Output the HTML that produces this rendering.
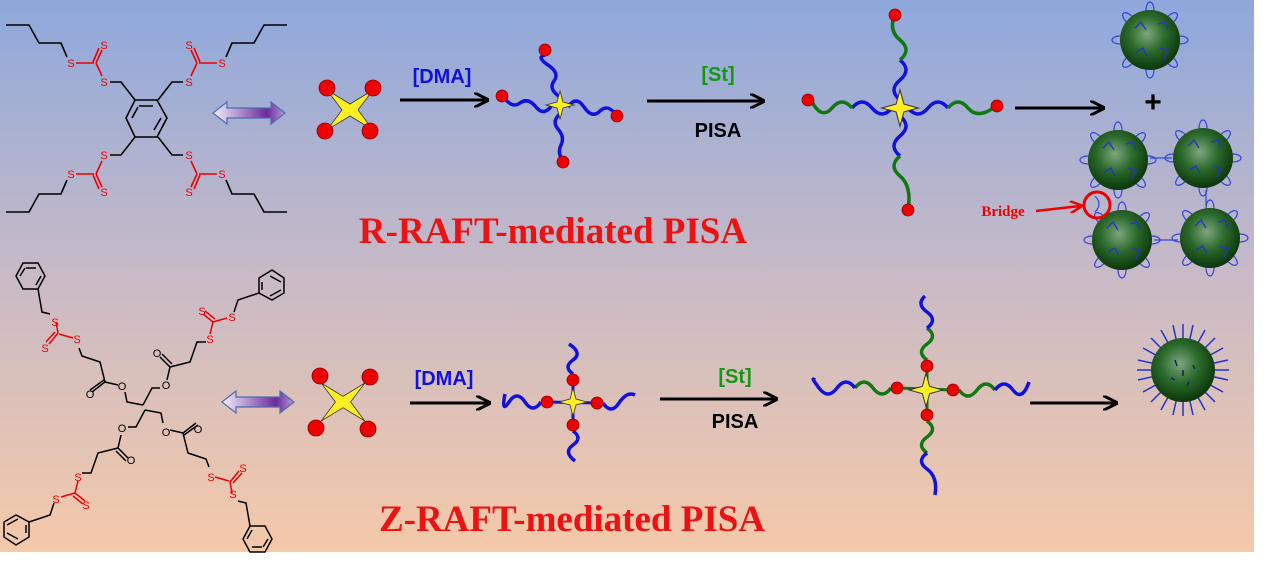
<!DOCTYPE html>
<html><head><meta charset="utf-8"><style>
html,body{margin:0;padding:0;background:#fff;}
svg{display:block}
</style></head><body>
<svg width="1269" height="565" viewBox="0 0 1269 565" xmlns="http://www.w3.org/2000/svg">
<defs>
<linearGradient id="bg" x1="0" y1="0" x2="0" y2="1">
<stop offset="0" stop-color="#8ea8dc"/><stop offset="0.5" stop-color="#c8bac6"/><stop offset="1" stop-color="#f5c9a9"/>
</linearGradient>
<linearGradient id="da" x1="0" y1="0" x2="1" y2="0">
<stop offset="0" stop-color="#f4f0fa"/><stop offset="0.75" stop-color="#6a2a9c"/><stop offset="1" stop-color="#b79bd6"/>
</linearGradient>
<radialGradient id="sg" cx="0.45" cy="0.4" r="0.6">
<stop offset="0" stop-color="#7ea67e"/><stop offset="0.5" stop-color="#2c6a2c"/><stop offset="1" stop-color="#0b360b"/>
</radialGradient>
<g id="sph">
<g fill="none" stroke="#3344dd" stroke-width="1.2">
<ellipse cx="0" cy="-30" rx="4" ry="8"/><ellipse cx="21" cy="-21" rx="4" ry="8" transform="rotate(45 21 -21)"/>
<ellipse cx="30" cy="0" rx="8" ry="4"/><ellipse cx="21" cy="21" rx="4" ry="8" transform="rotate(-45 21 21)"/>
<ellipse cx="0" cy="30" rx="4" ry="8"/><ellipse cx="-21" cy="21" rx="4" ry="8" transform="rotate(45 -21 21)"/>
<ellipse cx="-30" cy="0" rx="8" ry="4"/><ellipse cx="-21" cy="-21" rx="4" ry="8" transform="rotate(-45 -21 -21)"/>
</g>
<circle r="30" fill="url(#sg)"/>
<g fill="none" stroke="#2233cc" stroke-width="1.3">
<path d="M-15,-12 l6,-6 l5,8 M8,-16 l7,-2 l3,8 M-14,12 l7,-4 l4,8 M10,8 l8,3 l-4,8"/>
</g>
</g>
<g id="st"><polygon points="0,-14 3,-3 14,0 3,3 0,14 -3,3 -14,0 -3,-3" fill="#ffee22" stroke="#333" stroke-width="0.8"/></g>
<g id="stx"><polygon points="-23,-20 0,-6 23,-20 8,0 23,20 0,6 -23,20 -8,0" fill="#ffee22" stroke="#333" stroke-width="0.8"/></g>
<polygon id="dbl" points="0,0 14,-11 14,-5 58,-5 58,-11 72,0 58,11 58,5 14,5 14,11" fill="url(#da)" stroke="#4d6cb2" stroke-width="1.2"/>
<marker id="ah" viewBox="0 0 10 10" refX="8" refY="5" markerWidth="5" markerHeight="5" orient="auto"><path d="M0,0 L10,5 L0,10" fill="none" stroke="#000" stroke-width="2"/></marker>
<marker id="ahr" viewBox="0 0 10 10" refX="8" refY="5" markerWidth="5" markerHeight="5" orient="auto"><path d="M0,0 L10,5 L0,10" fill="none" stroke="#e00" stroke-width="2"/></marker>
</defs>
<rect x="0" y="0" width="1254" height="552" fill="url(#bg)"/>

<!-- Top molecule -->
<g fill="none" stroke-width="1.6">
<g id="q1">
<path d="M6,25 L29,25 L39,43 L61,43 L67,57" stroke="#000"/>
<path d="M76,63 L94,63 M96,63 L102,50 M93,62 L99,48 M96,63 L102,76" stroke="#e00"/>
<path d="M110,82 L121,82 L135,100" stroke="#000"/>
</g>
<use href="#q1" transform="matrix(-1 0 0 1 293 0)"/>
<use href="#q1" transform="matrix(1 0 0 -1 0 237)"/>
<use href="#q1" transform="matrix(-1 0 0 -1 293 237)"/>
<path d="M135,100 L157,100 L167,118 L157,137 L135,137 L126,118 Z M139,106 L153,106 M161,118 L154,130 M132,118 L138,107" stroke="#000"/>
</g>
<g font-family="Liberation Sans, sans-serif" font-size="11" fill="#e00" text-anchor="middle">
<text x="71" y="67">S</text><text x="104" y="49">S</text><text x="104" y="86">S</text>
<text x="222" y="67">S</text><text x="189" y="49">S</text><text x="189" y="86">S</text>
<text x="71" y="178">S</text><text x="104" y="196">S</text><text x="104" y="159">S</text>
<text x="222" y="178">S</text><text x="189" y="196">S</text><text x="189" y="159">S</text>
</g>

<!-- Bottom molecule -->
<g fill="none" stroke-width="1.5">
<g id="arms">
<path d="M23,263 L38,263 L45,276 L38,289 L23,289 L16,276 Z M26,268 L36,268 M41,276 L36,285 M20,276 L25,268" stroke="#000"/>
<path d="M38,289 L42,312 L50,314" stroke="#000"/>
<path d="M56,322 L58,333 M58,333 L49,344 M55,332 L46,342 M59,334 L73,338" stroke="#e00"/>
<path d="M79,348 L82,356 L100,362 L105,382 L92,392 M104,380 L90,390 M105,382 L118,385 M125,392 L127,402 L143,405" stroke="#000"/>
<path d="M272,270 L284,278 L284,293 L272,300 L259,293 L259,278 Z M270,276 L281,282 M270,296 L281,290 M262,290 L262,282" stroke="#000"/>
<path d="M259,293 L238,300 L234,312" stroke="#000"/>
<path d="M227,318 L213,322 M213,322 L203,314 M215,319 L205,311 M213,322 L210,334" stroke="#e00"/>
<path d="M206,342 L197,342 L190,362 L170,367 L160,357 M172,364 L162,354 M170,367 L167,380 M160,388 L152,388 L143,405" stroke="#000"/>
</g>
<use href="#arms" transform="rotate(180 144 407.5)"/>
</g>
<g font-family="Liberation Sans, sans-serif" font-size="11" text-anchor="middle">
<g fill="#e00">
<text x="55" y="326">S</text><text x="45" y="352">S</text><text x="77" y="343">S</text>
<text x="232" y="321">S</text><text x="202" y="315">S</text><text x="210" y="343">S</text>
<text x="233" y="498">S</text><text x="243" y="472">S</text><text x="211" y="481">S</text>
<text x="56" y="503">S</text><text x="86" y="509">S</text><text x="78" y="481">S</text>
</g>
<g fill="#000">
<text x="90" y="398">O</text><text x="122" y="390">O</text>
<text x="157" y="357">O</text><text x="166" y="389">O</text>
<text x="198" y="433">O</text><text x="166" y="436">O</text>
<text x="131" y="464">O</text><text x="122" y="432">O</text>
</g>
</g>

<!-- double arrows -->
<use href="#dbl" transform="translate(213,113)"/>
<use href="#dbl" transform="translate(222,402)"/>

<!-- Top row -->
<use href="#stx" transform="translate(350,110)"/>
<g fill="#e00" stroke="#800" stroke-width="0.8">
<circle cx="327" cy="88" r="8"/><circle cx="373" cy="88" r="8"/><circle cx="325" cy="131" r="8"/><circle cx="370" cy="131" r="8"/>
</g>
<line x1="400" y1="100" x2="486" y2="100" stroke="#000" stroke-width="3" marker-end="url(#ah)"/>
<text x="442" y="83" font-family="Liberation Sans, sans-serif" font-weight="bold" font-size="20" fill="#11d" text-anchor="middle">[DMA]</text>

<g fill="none" stroke="#11d" stroke-width="3.5">
<path d="M560,97 q-12,-8 -6,-16 t-6,-16 t-3,-10"/>
<path d="M552,105 q-8,12 -16,2 t-16,-4 t-16,-6"/>
<path d="M568,107 q8,-12 16,0 t16,4 t17,5"/>
<path d="M561,113 q-10,8 -3,16 t3,16 t2,16"/>
</g>
<use href="#st" transform="translate(560,105)"/>
<g fill="#e00" stroke="#800" stroke-width="0.8">
<circle cx="545" cy="50" r="6"/><circle cx="502" cy="96" r="6"/><circle cx="617" cy="116" r="6"/><circle cx="563" cy="162" r="6"/>
</g>

<line x1="647" y1="101" x2="762" y2="101" stroke="#000" stroke-width="3" marker-end="url(#ah)"/>
<text x="718" y="81" font-family="Liberation Sans, sans-serif" font-weight="bold" font-size="20" fill="#191" text-anchor="middle">[St]</text>
<text x="718" y="137" font-family="Liberation Sans, sans-serif" font-weight="bold" font-size="20" fill="#000" text-anchor="middle">PISA</text>

<g fill="none" stroke-width="3.5">
<path d="M892,108 q-10,12 -20,0 t-20,0" stroke="#11d"/>
<path d="M852,108 q-10,-12 -20,0 t-20,-6" stroke="#171"/>
<path d="M908,108 q10,12 20,0 t20,0" stroke="#11d"/>
<path d="M948,108 q10,-12 20,0 t28,-2" stroke="#171"/>
<path d="M900,100 q-12,-10 0,-20 t0,-20" stroke="#11d"/>
<path d="M900,60 q12,-10 0,-20 t-5,-25" stroke="#171"/>
<path d="M900,116 q12,10 0,20 t0,20" stroke="#11d"/>
<path d="M900,156 q-12,10 0,20 t8,34" stroke="#171"/>
</g>
<use href="#st" transform="translate(900,108) scale(1.3)"/>
<g fill="#e00" stroke="#800" stroke-width="0.8">
<circle cx="895" cy="15" r="6"/><circle cx="808" cy="100" r="6"/><circle cx="997" cy="106" r="6"/><circle cx="908" cy="210" r="6"/>
</g>
<line x1="1015" y1="108" x2="1102" y2="108" stroke="#000" stroke-width="3" marker-end="url(#ah)"/>
<text x="1153" y="112" font-family="Liberation Sans, sans-serif" font-weight="bold" font-size="30" fill="#000" text-anchor="middle">+</text>

<use href="#sph" transform="translate(1150,40)"/>
<use href="#sph" transform="translate(1118,160)"/>
<use href="#sph" transform="translate(1203,158)"/>
<use href="#sph" transform="translate(1122,240)"/>
<use href="#sph" transform="translate(1210,238)"/>
<g stroke="#3344dd" stroke-width="1.2" fill="none">
<line x1="1150" y1="158" x2="1172" y2="158"/><line x1="1154" y1="240" x2="1178" y2="240"/>
<path d="M1095,196 q8,8 0,16 M1206,190 l0,16"/>
</g>
<circle cx="1097" cy="205" r="13" fill="none" stroke="#e00" stroke-width="3"/>
<line x1="1036" y1="211" x2="1080" y2="206" stroke="#e00" stroke-width="2.5" marker-end="url(#ahr)"/>
<text x="1003" y="216" font-family="Liberation Serif, serif" font-weight="bold" font-size="15" fill="#e00" text-anchor="middle">Bridge</text>

<text x="553" y="243" font-family="Liberation Serif, serif" font-weight="bold" font-size="37" fill="#ee1111" text-anchor="middle">R-RAFT-mediated PISA</text>

<!-- Bottom row -->
<use href="#stx" transform="translate(343,402) scale(0.95)"/>
<g fill="#e00" stroke="#800" stroke-width="0.8">
<circle cx="320" cy="376" r="8"/><circle cx="370" cy="377" r="8"/><circle cx="316" cy="428" r="8"/><circle cx="368" cy="429" r="8"/>
</g>
<line x1="410" y1="403" x2="488" y2="403" stroke="#000" stroke-width="3" marker-end="url(#ah)"/>
<text x="444" y="385" font-family="Liberation Sans, sans-serif" font-weight="bold" font-size="20" fill="#11d" text-anchor="middle">[DMA]</text>

<g fill="none" stroke="#11d" stroke-width="3.5">
<path d="M541,402 q-8,12 -16,0 t-16,0 t-4,-8"/>
<path d="M603,403 q8,12 16,0 t16,-8"/>
<path d="M573,374 q-10,-7 0,-14 t-4,-16"/>
<path d="M573,431 q10,7 0,14 t2,16"/>
</g>
<line x1="547" y1="402" x2="597" y2="403" stroke="#11d" stroke-width="3"/>
<line x1="573" y1="380" x2="573" y2="425" stroke="#11d" stroke-width="3"/>
<use href="#st" transform="translate(573,402)"/>
<g fill="#e00" stroke="#800" stroke-width="0.8">
<circle cx="547" cy="402" r="6"/><circle cx="573" cy="380" r="6"/><circle cx="597" cy="403" r="6"/><circle cx="573" cy="425" r="6"/>
</g>

<line x1="660" y1="399" x2="775" y2="399" stroke="#000" stroke-width="3" marker-end="url(#ah)"/>
<text x="735" y="383" font-family="Liberation Sans, sans-serif" font-weight="bold" font-size="20" fill="#191" text-anchor="middle">[St]</text>
<text x="735" y="428" font-family="Liberation Sans, sans-serif" font-weight="bold" font-size="20" fill="#000" text-anchor="middle">PISA</text>

<g fill="none" stroke-width="3.5">
<path d="M891,388 q-9,12 -18,0 t-18,0" stroke="#171"/>
<path d="M855,388 q-9,-12 -18,0 t-18,0 t-4,-8" stroke="#11d"/>
<path d="M959,390 q9,12 18,0 t18,0" stroke="#171"/>
<path d="M995,390 q9,-12 18,0 t16,-8" stroke="#11d"/>
<path d="M927,360 q-11,-8 0,-16 t0,-16" stroke="#171"/>
<path d="M927,328 q11,-8 0,-16 t-2,-16" stroke="#11d"/>
<path d="M927,421 q11,8 0,16 t0,16" stroke="#171"/>
<path d="M927,453 q-11,8 0,16 t8,26" stroke="#11d"/>
</g>
<line x1="897" y1="388" x2="953" y2="390" stroke="#171" stroke-width="3"/>
<line x1="927" y1="366" x2="927" y2="415" stroke="#171" stroke-width="3"/>
<use href="#st" transform="translate(926,390) scale(1.2)"/>
<g fill="#e00" stroke="#800" stroke-width="0.8">
<circle cx="897" cy="388" r="6"/><circle cx="927" cy="366" r="6"/><circle cx="953" cy="390" r="6"/><circle cx="927" cy="415" r="6"/>
</g>
<line x1="1030" y1="403" x2="1115" y2="403" stroke="#000" stroke-width="3" marker-end="url(#ah)"/>

<g transform="translate(1183,370)" stroke="#2233cc" stroke-width="1.5">
<line x1="-46" y1="0" x2="46" y2="0"/><line x1="0" y1="-46" x2="0" y2="46"/>
<line x1="-40" y1="-22" x2="40" y2="22"/><line x1="-40" y1="22" x2="40" y2="-22"/>
<line x1="-22" y1="-40" x2="22" y2="40"/><line x1="22" y1="-40" x2="-22" y2="40"/>
<line x1="-45" y1="-10" x2="45" y2="10"/><line x1="-45" y1="10" x2="45" y2="-10"/>
<line x1="-10" y1="-45" x2="10" y2="45"/><line x1="10" y1="-45" x2="-10" y2="45"/>
<line x1="-32" y1="-32" x2="32" y2="32"/><line x1="-32" y1="32" x2="32" y2="-32"/>
<circle r="32" fill="url(#sg)" stroke="none"/>
<path d="M-8,-10 l2,6 M0,0 l0,6 M10,-5 l2,4 M-12,8 l4,2 M6,12 l-2,4" stroke="#112266"/>
</g>

<text x="572" y="531" font-family="Liberation Serif, serif" font-weight="bold" font-size="37" fill="#ee1111" text-anchor="middle">Z-RAFT-mediated PISA</text>
</svg>
</body></html>
